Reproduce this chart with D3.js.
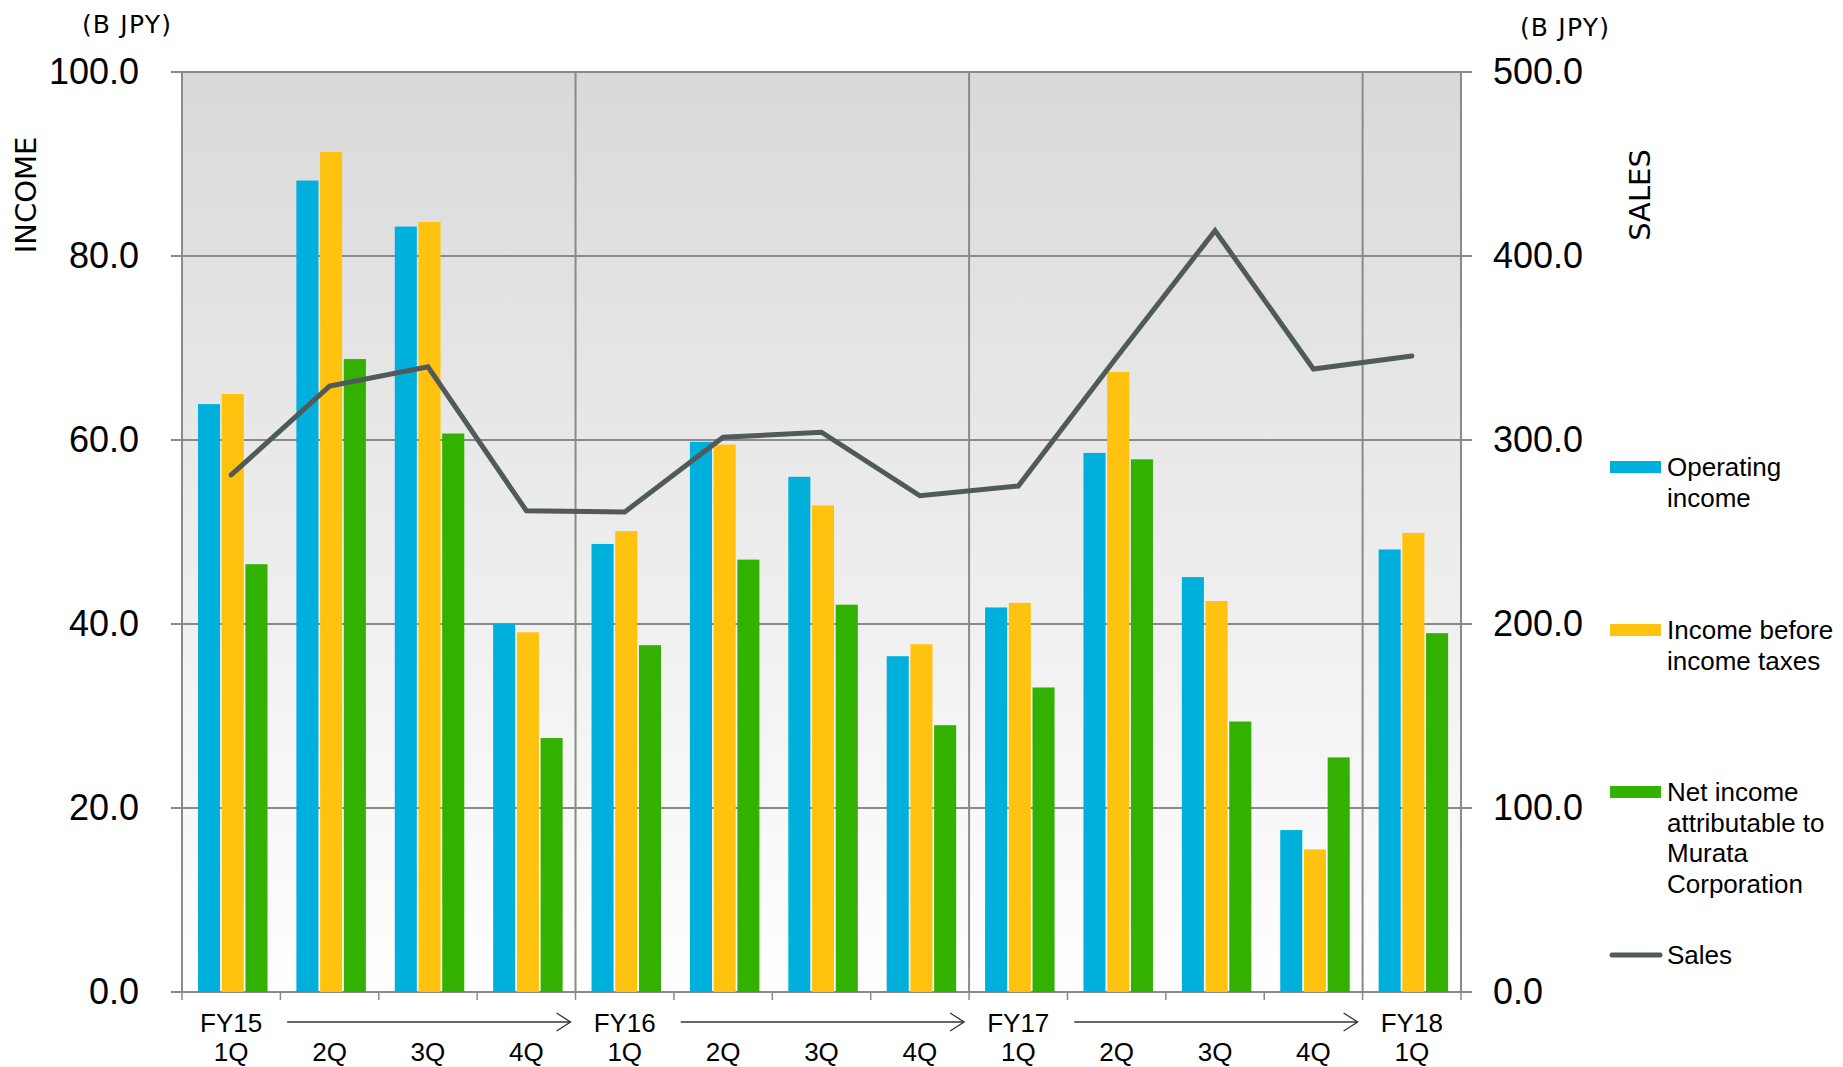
<!DOCTYPE html>
<html>
<head>
<meta charset="utf-8">
<script src="https://cdn.jsdelivr.net/npm/d3@7"></script>
<style>
  body { margin: 0; background: #fff; }
  svg { display: block; }
</style>
</head>
<body>
<div id="chart"></div>
<script>
// quarters along the x axis
const quarters = ["1Q", "2Q", "3Q", "4Q", "1Q", "2Q", "3Q", "4Q", "1Q", "2Q", "3Q", "4Q", "1Q"];
const fiscalYears = ["FY15", "", "", "", "FY16", "", "", "", "FY17", "", "", "", "FY18"];

// income series (B JPY)
const operatingIncome = [63.9, 88.2, 83.2, 40.0, 48.7, 59.8, 56.0, 36.5, 41.8, 58.6, 45.1, 17.6, 48.1];
const incomeBeforeTaxes = [65.0, 91.3, 83.7, 39.1, 50.1, 59.5, 52.9, 37.8, 42.3, 67.4, 42.5, 15.5, 49.9];
const netIncome = [46.5, 68.8, 60.7, 27.6, 37.7, 47.0, 42.1, 29.0, 33.1, 57.9, 29.4, 25.5, 39.0];

// sales (B JPY, right axis)
const sales = [281.0, 329.3, 339.8, 261.6, 260.9, 301.5, 304.2, 269.7, 275.0, 345.0, 413.8, 338.6, 345.7];

const leftTicks = [0, 20, 40, 60, 80, 100];
const rightTicks = [0, 100, 200, 300, 400, 500];

const seriesNames = [
    ["Operating", "income"],
    ["Income before", "income taxes"],
    ["Net income", "attributable to", "Murata", "Corporation"]
];
const colors = ["#00b0dc", "#ffc20e", "#33b100"];
const lineColor = "#505a5b";

const svgWidth = 1843, svgHeight = 1067;
const margin = { top: 72, left: 182, right: 382, bottom: 75 };
const width = svgWidth - margin.left - margin.right;   // 1279
const height = svgHeight - margin.top - margin.bottom; // 920

const svg = d3.select("#chart").append("svg")
    .attr("width", svgWidth)
    .attr("height", svgHeight);

// background gradient of the plot area
const defs = svg.append("defs");
const grad = defs.append("linearGradient")
    .attr("id", "bg").attr("x1", 0).attr("y1", 0).attr("x2", 0).attr("y2", 1);
grad.append("stop").attr("offset", "0%").attr("stop-color", "#d9d9d9");
grad.append("stop").attr("offset", "100%").attr("stop-color", "#ffffff");

const chart = svg.append("g").attr("transform", `translate(${margin.left},${margin.top})`);

chart.append("rect")
    .attr("width", width).attr("height", height)
    .attr("fill", "url(#bg)");

// scales
const idx = d3.range(quarters.length);
const x0 = d3.scaleBand().domain(idx).range([0, width]).padding(0);
const bw = x0.bandwidth();
const x1 = d3.scaleBand().domain([0, 1, 2]).range([16, 16 + 69.5]).paddingInner(0.07);
const yL = d3.scaleLinear().domain([0, 100]).range([height, 0]);
const yR = d3.scaleLinear().domain([0, 500]).range([height, 0]);

// horizontal gridlines (with tick stubs on both sides)
chart.append("g").selectAll("line")
    .data(leftTicks).enter().append("line")
    .attr("x1", -11).attr("x2", width + 11)
    .attr("y1", d => yL(d)).attr("y2", d => yL(d))
    .attr("stroke", "#8a8a8a").attr("stroke-width", 2);

// vertical border & fiscal-year separators
const vLines = [0, 4, 8, 12, 13];
chart.append("g").selectAll("line")
    .data(vLines).enter().append("line")
    .attr("x1", d => d < 13 ? x0(d) : width)
    .attr("x2", d => d < 13 ? x0(d) : width)
    .attr("y1", 0).attr("y2", height)
    .attr("stroke", "#8a8a8a").attr("stroke-width", 2);

// x tick marks under the axis
chart.append("g").selectAll("line")
    .data(d3.range(quarters.length + 1)).enter().append("line")
    .attr("x1", d => d * bw).attr("x2", d => d * bw)
    .attr("y1", height).attr("y2", height + 8)
    .attr("stroke", "#8a8a8a").attr("stroke-width", 1.5);

// bars
const allSeries = [operatingIncome, incomeBeforeTaxes, netIncome];
allSeries.forEach((vals, s) => {
    chart.append("g").selectAll("rect")
        .data(vals).enter().append("rect")
        .attr("x", (d, i) => x0(i) + x1(s))
        .attr("y", d => yL(d))
        .attr("width", x1.bandwidth())
        .attr("height", d => height - yL(d))
        .attr("fill", colors[s]);
});

// sales line
const line = d3.line()
    .x((d, i) => x0(i) + bw / 2)
    .y(d => yR(d));
chart.append("path")
    .datum(sales)
    .attr("d", line)
    .attr("fill", "none")
    .attr("stroke", lineColor)
    .attr("stroke-width", 5)
    .attr("stroke-linecap", "round")
    .attr("stroke-linejoin", "miter");

// left axis labels
const leftAxis = d3.axisLeft(yL).tickValues(leftTicks).tickFormat(d3.format(".1f"))
    .tickSize(0).tickPadding(43);
const gl = chart.append("g").call(leftAxis);
gl.select(".domain").remove();
gl.selectAll("text")
    .attr("font-family", "'Liberation Sans', Arial, sans-serif")
    .attr("font-size", 36).attr("fill", "#000");

// right axis labels
const rightAxis = d3.axisRight(yR).tickValues(rightTicks).tickFormat(d3.format(".1f"))
    .tickSize(0).tickPadding(32);
const gr = chart.append("g").attr("transform", `translate(${width},0)`).call(rightAxis);
gr.select(".domain").remove();
gr.selectAll("text")
    .attr("font-family", "'Liberation Sans', Arial, sans-serif")
    .attr("font-size", 36).attr("fill", "#000");

// x labels
const xl = chart.append("g")
    .attr("font-family", "'Liberation Sans', Arial, sans-serif")
    .attr("font-size", 26).attr("text-anchor", "middle").attr("fill", "#000");
xl.selectAll(".fy").data(fiscalYears).enter().append("text")
    .attr("x", (d, i) => x0(i) + bw / 2)
    .attr("y", height + 40)
    .text(d => d);
xl.selectAll(".q").data(quarters).enter().append("text")
    .attr("x", (d, i) => x0(i) + bw / 2)
    .attr("y", height + 69)
    .text(d => d);

// arrows between fiscal years
const arrowY = height + 30;
[0, 4, 8].forEach(start => {
    const xs = x0(start) + bw / 2 + 56;
    const xe = x0(start + 4) - 5;
    const g = chart.append("g").attr("stroke", "#333").attr("stroke-width", 1.3).attr("fill", "none");
    g.append("line").attr("x1", xs).attr("x2", xe).attr("y1", arrowY).attr("y2", arrowY);
    g.append("path").attr("d", `M${xe - 14},${arrowY - 9}L${xe},${arrowY}L${xe - 14},${arrowY + 9}`);
});

// units and axis titles
const titleFont = "'DejaVu Sans', Verdana, sans-serif";
svg.append("text").attr("x", 127).attr("y", 33)
    .attr("text-anchor", "middle").attr("font-family", titleFont)
    .attr("font-size", 25).attr("letter-spacing", 1.2).text("(B JPY)");
svg.append("text").attr("x", 1565).attr("y", 36)
    .attr("text-anchor", "middle").attr("font-family", titleFont)
    .attr("font-size", 25).attr("letter-spacing", 1.2).text("(B JPY)");
svg.append("text")
    .attr("transform", "translate(36,195) rotate(-90)")
    .attr("text-anchor", "middle").attr("font-family", titleFont)
    .attr("font-size", 29).text("INCOME");
svg.append("text")
    .attr("transform", "translate(1650,195) rotate(-90)")
    .attr("text-anchor", "middle").attr("font-family", titleFont)
    .attr("font-size", 29).text("SALES");

// legend
const legend = svg.append("g")
    .attr("font-family", "'Liberation Sans', Arial, sans-serif")
    .attr("font-size", 26).attr("fill", "#000");
const legendY = [467, 630, 792];
seriesNames.forEach((lines, s) => {
    legend.append("rect")
        .attr("x", 1610).attr("y", legendY[s] - 6)
        .attr("width", 51).attr("height", 12)
        .attr("fill", colors[s]);
    const t = legend.append("text").attr("x", 1667).attr("y", legendY[s] + 9);
    lines.forEach((ln, k) => {
        t.append("tspan").attr("x", 1667).attr("dy", k === 0 ? 0 : 30.5).text(ln);
    });
});
legend.append("line")
    .attr("x1", 1612).attr("x2", 1660).attr("y1", 955).attr("y2", 955)
    .attr("stroke", lineColor).attr("stroke-width", 5).attr("stroke-linecap", "round");
legend.append("text").attr("x", 1667).attr("y", 964).text("Sales");
</script>
</body>
</html>
